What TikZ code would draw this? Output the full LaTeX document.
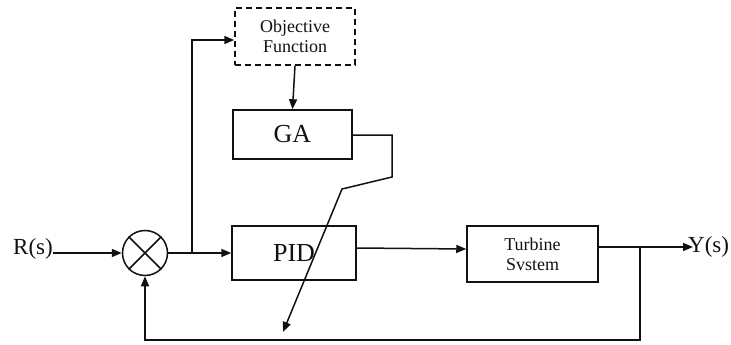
\documentclass[tikz,border=0pt]{standalone}
\usepackage{fontspec}
\setmainfont{Liberation Serif}
\usepackage{xcolor}
\usetikzlibrary{calc,arrows.meta}
\definecolor{ink}{HTML}{111111}
\tikzset{
  base/.style={draw=ink, line width=1.5pt, line join=miter},
  arr/.style={base, -{Triangle[length=10pt,width=8pt]}},
  block/.style={base, rectangle, inner sep=0pt, text=ink, align=center},
  dashblock/.style={block, dash pattern=on 6pt off 4pt},
  sumnode/.style={base, circle, minimum size=45pt, inner sep=0pt},
  lbl/.style={text=ink, inner sep=0pt, font=\fontsize{23}{25}\selectfont}
}
\begin{document}
\begin{tikzpicture}[x=1pt,y=-1pt]
  \useasboundingbox (0,0) rectangle (731,345);

  % blocks
  \node[dashblock, minimum width=120pt, minimum height=57pt,
        font=\fontsize{18}{20}\selectfont] (obj) at (295,36.5) {Objective\\Function};
  \node[block, minimum width=119pt, minimum height=49pt,
        font=\fontsize{26}{28}\selectfont] (ga) at (292.5,134.5) {GA};
  \node[block, minimum width=124pt, minimum height=54pt,
        font=\fontsize{26}{28}\selectfont] (pid) at (294,253) {PID};
  \node[block, minimum width=131pt, minimum height=56pt,
        font=\fontsize{18}{20}\selectfont] (turb) at (532.5,254) {Turbine\\Svstem};

  % summing junction
  \node[sumnode] (sum) at (145,253) {};
  \draw[base] (sum.north west) -- (sum.south east);
  \draw[base] (sum.north east) -- (sum.south west);

  % input and output labels
  \node[lbl, anchor=west] (rs) at (13,249) {R(s)};
  \node[lbl, anchor=west] (ys) at (688,247) {Y(s)};

  % forward path
  \draw[arr] (rs.east |- sum.west) -- (sum.west);
  \draw[arr] (sum.east) -- (pid.west);
  \draw[arr] ([yshift=5pt]pid.east) -- ([yshift=5pt]turb.west);
  \draw[arr] ([yshift=7pt]turb.east) -- ([xshift=5pt]ys.west);

  % branch to the objective function
  \coordinate (tap) at (192,253);
  \draw[arr] (tap) -- (tap |- 0,40) -- (obj.west |- 0,40);
  \draw[arr] (obj.south) -- (ga.north);

  % GA tuning arrow across PID
  \coordinate (g1) at (392,135);
  \coordinate (g2) at (392,177);
  \coordinate (g3) at (342,189);
  \coordinate (gtip) at (283,332);
  \draw[arr] (ga.east |- g1) -- (g1) -- (g2) -- (g3) -- (gtip);

  % feedback path
  \coordinate (fb) at (640,247);
  \coordinate (fbl) at (640,340);
  \draw[arr] (fb) -- (fbl) -- (sum.south |- fbl) -- (sum.south);
\end{tikzpicture}
\end{document}
